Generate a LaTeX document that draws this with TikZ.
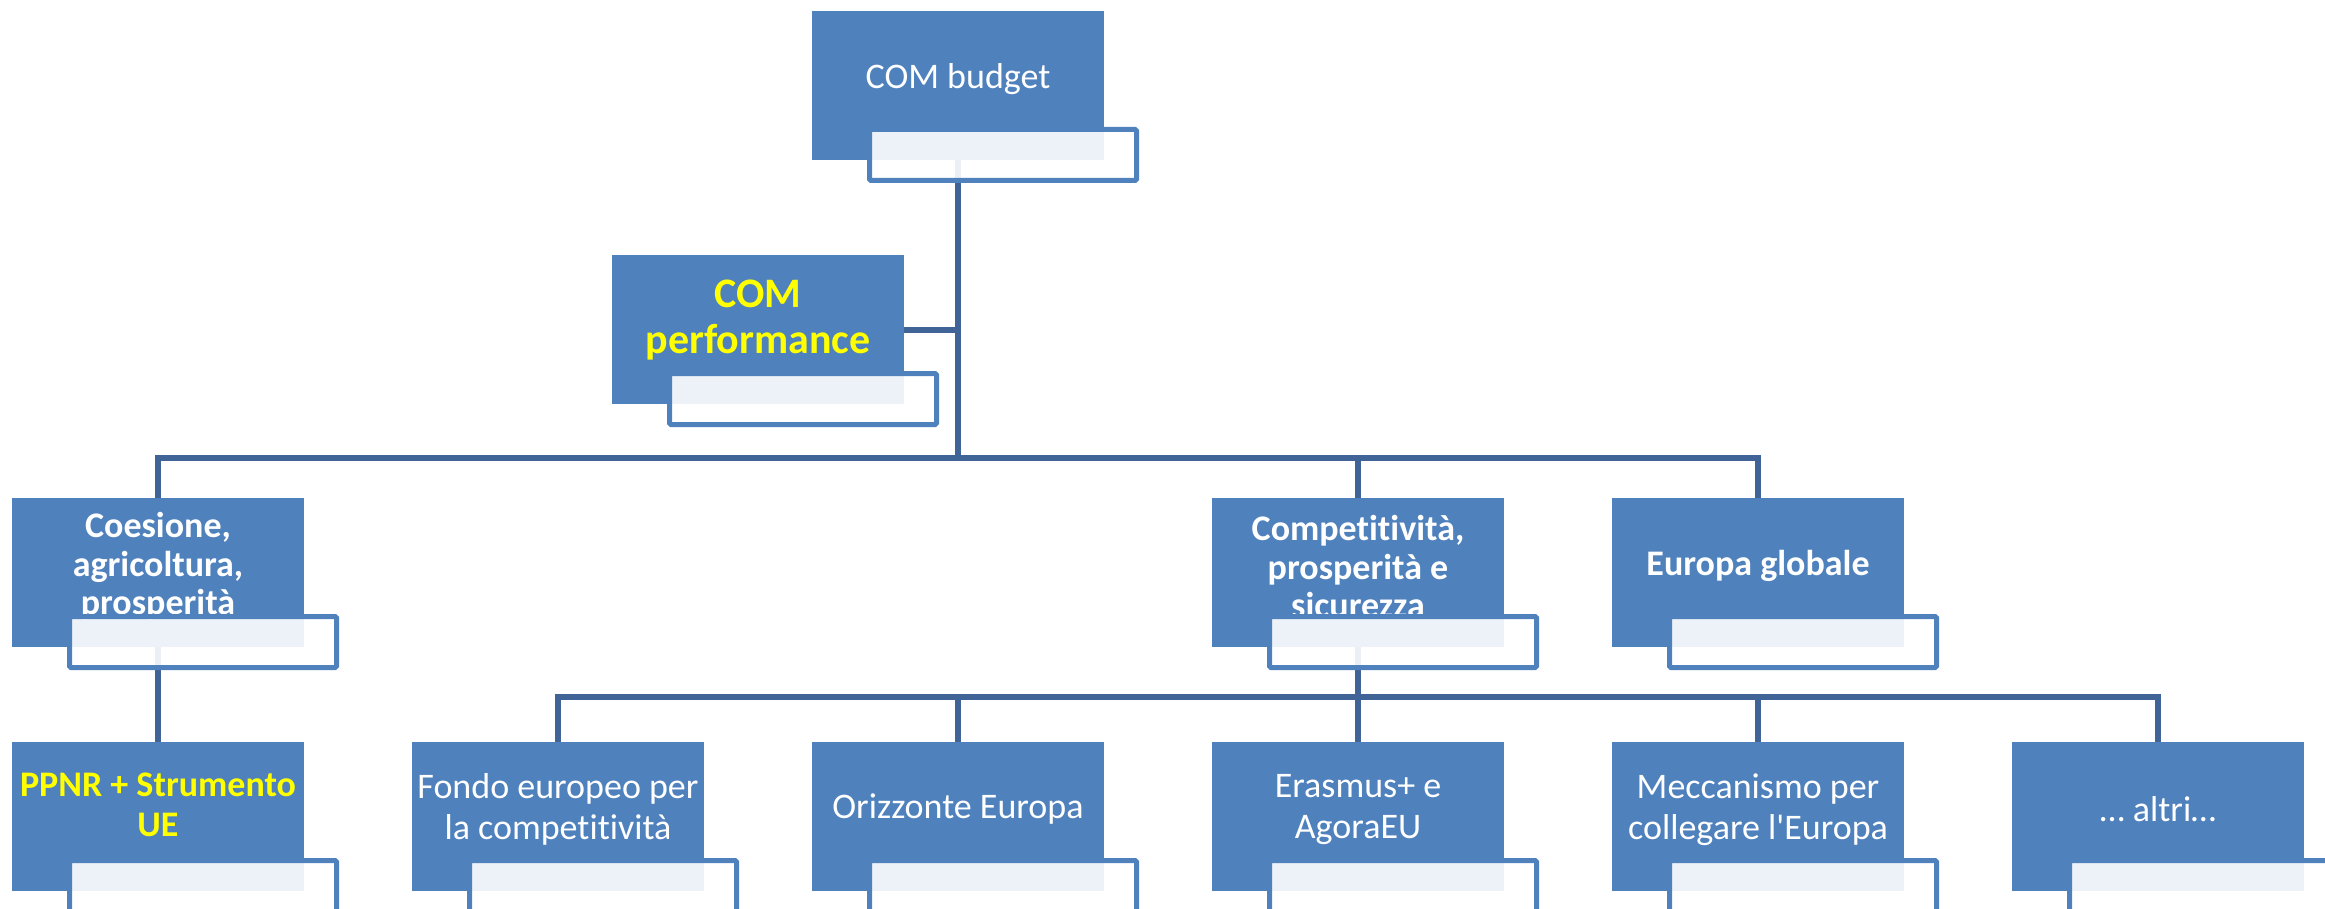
\documentclass[tikz,border=0pt]{standalone}
\usepackage{fontspec}
\setmainfont{Carlito}[Ligatures={NoCommon,NoContextual,NoRare},RawFeature={-liga;-clig;-calt;-dlig}]
\usetikzlibrary{calc}
\pgfdeclarelayer{bg}
\pgfsetlayers{bg,main}
\definecolor{boxblue}{RGB}{79,129,189}
\definecolor{linkblue}{RGB}{64,100,152}
\definecolor{hiyellow}{RGB}{255,255,0}
\newcommand\nolig{\kern0pt }
\begin{document}
\begin{tikzpicture}[x=1pt,y=-1pt,
  mainbox/.style={rectangle, fill=boxblue, draw=none, minimum width=292pt,
    minimum height=149pt, inner sep=0pt, outer sep=0pt, anchor=north west},
  subbox/.style={rectangle, draw=boxblue, line width=5pt, fill=white,
    fill opacity=0.9, minimum width=267pt, minimum height=51pt, inner sep=0pt,
    outer sep=0pt, rounded corners=1.5pt, anchor=north west},
  lbl/.style={text=white, align=center, inner sep=0pt,
    font=\fontsize{36}{41}\selectfont},
  lblb/.style={lbl, font=\fontsize{36}{38.5}\selectfont\bfseries},
  lbly/.style={lbl, text=hiyellow, font=\fontsize{36}{40}\selectfont\bfseries},
  link/.style={draw=linkblue, line width=6pt, line join=miter}
]
\useasboundingbox (0,0) rectangle (2325,909);
\clip (0,0) rectangle (2325,909);

% row 1
\node[mainbox, label={[lbl, yshift=6pt]center:{COM budget}}] (budget) at (812,11) {};
\node[subbox] (budgetS) at ($(budget.south west)+(57.5,-30.5)$) {};
% row 2
\node[mainbox, label={[lbly, font=\fontsize{42}{46}\selectfont\bfseries, yshift=9pt]center:{COM\\performance}}] (perf) at (612,255) {};
\node[subbox] (perfS) at ($(perf.south west)+(57.5,-30.5)$) {};
% row 3
\node[mainbox, label={[lblb, yshift=6pt]center:{Coesione,\\agricoltura,\\prosperità}}] (coes) at (12,498) {};
\node[subbox] (coesS) at ($(coes.south west)+(57.5,-30.5)$) {};
\node[mainbox, label={[lblb, yshift=6pt]center:{Compet\nolig it\nolig ività,\\prosperità e\\sicurezza}}] (comp) at (1212,498) {};
\node[subbox] (compS) at ($(comp.south west)+(57.5,-30.5)$) {};
\node[mainbox, label={[lblb, yshift=7pt]center:{Europa globale}}] (glob) at (1612,498) {};
\node[subbox] (globS) at ($(glob.south west)+(57.5,-30.5)$) {};
% row 4
\node[mainbox, label={[lbly, yshift=12pt]center:{PPNR + Strumento\\UE}}] (ppnr) at (12,742) {};
\node[subbox] (ppnrS) at ($(ppnr.south west)+(57.5,-30.5)$) {};
\node[mainbox, label={[lbl, yshift=7pt]center:{Fondo europeo per\\la compet\nolig it\nolig ività}}] (fondo) at (412,742) {};
\node[subbox] (fondoS) at ($(fondo.south west)+(57.5,-30.5)$) {};
\node[mainbox, label={[lbl, yshift=7pt]center:{Orizzonte Europa}}] (oriz) at (812,742) {};
\node[subbox] (orizS) at ($(oriz.south west)+(57.5,-30.5)$) {};
\node[mainbox, label={[lbl, yshift=7pt]center:{Erasmus+ e\\AgoraEU}}] (eras) at (1212,742) {};
\node[subbox] (erasS) at ($(eras.south west)+(57.5,-30.5)$) {};
\node[mainbox, label={[lbl, yshift=7pt]center:{Meccanismo per\\collegare l\textquotesingle Europa}}] (mecc) at (1612,742) {};
\node[subbox] (meccS) at ($(mecc.south west)+(57.5,-30.5)$) {};
\node[mainbox, label={[lbl, yshift=7pt]center:{… altri…}}] (altri) at (2012,742) {};
\node[subbox] (altriS) at ($(altri.south west)+(57.5,-30.5)$) {};

\coordinate (hub1) at (958,458);
\coordinate (hub2) at (958,697);

\begin{pgfonlayer}{bg}
  \draw[link] (budget.south) -- (hub1);
  \draw[link] (perf.east) -- (perf.east -| budget.south);
  \draw[link] (coes.north) |- (glob.north |- hub1) -- (glob.north);
  \draw[link] (comp.north) -- (comp.north |- hub1);
  \draw[link] (coes.south) -- (ppnr.north);
  \draw[link] (comp.south) -- (comp.south |- hub2);
  \draw[link] (fondo.north) |- (altri.north |- hub2) -- (altri.north);
  \draw[link] (oriz.north) -- (oriz.north |- hub2);
  \draw[link] (eras.north) -- (eras.north |- hub2);
  \draw[link] (mecc.north) -- (mecc.north |- hub2);
\end{pgfonlayer}
\end{tikzpicture}
\end{document}
